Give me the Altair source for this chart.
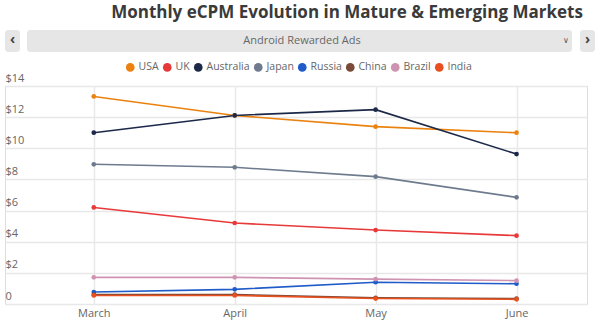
import altair as alt
import pandas as pd

months = ["March", "April", "May", "June"]
countries = ["USA", "UK", "Australia", "Japan", "Russia", "China", "Brazil", "India"]
colors = ["#EB820F", "#E8393A", "#1B2848", "#6E7B8E", "#1F5BC9", "#7A4A38", "#CF93B2", "#E8501F"]

usa = [13.33, 12.11, 11.39, 11.0]
uk = [6.2, 5.2, 4.75, 4.39]
australia = [11.0, 12.11, 12.48, 9.63]
japan = [8.97, 8.78, 8.18, 6.85]
russia = [0.77, 0.94, 1.4, 1.3]
china = [0.6, 0.6, 0.4, 0.35]
brazil = [1.71, 1.71, 1.6, 1.5]
india = [0.55, 0.55, 0.35, 0.3]
y_ticks = [0, 2, 4, 6, 8, 10, 12, 14]

series = [usa, uk, australia, japan, russia, china, brazil, india]
rows = []
for c, vals in zip(countries, series):
    for i, (m, v) in enumerate(zip(months, vals)):
        rows.append({"country": c, "month": m, "idx": i, "value": v})
df = pd.DataFrame(rows)

FONT = "Open Sans"
W, H = 582, 218

xenc = alt.X("idx:Q",
             scale=alt.Scale(domain=[-0.63, 3.5], nice=False, zero=False),
             axis=alt.Axis(values=[0, 1, 2, 3], title=None, domain=False, ticks=False,
                           labelExpr="['March','April','May','June'][datum.value]",
                           labelFont=FONT, labelFontSize=11, labelColor="#666",
                           labelPadding=3, gridColor="#e8e8e8", gridWidth=1.5))
yenc = alt.Y("value:Q",
             scale=alt.Scale(domain=[0, 14], nice=False),
             axis=alt.Axis(values=y_ticks, title=None, domain=False, ticks=False,
                           tickSize=0, labelAlign="left", labelPadding=0, labelBaseline="bottom",
                           labelOffset=-3, labelOverlap=False, labelBound=False, labelFlush=False,
                           labelExpr="datum.value == 0 ? '0' : '$' + datum.value",
                           labelFont=FONT, labelFontSize=11, labelColor="#666",
                           gridColor="#e8e8e8", gridWidth=1.5))
color = alt.Color("country:N", scale=alt.Scale(domain=countries, range=colors),
                  legend=alt.Legend(orient="none", direction="horizontal", legendX=120, legendY=-24,
                                    title=None, symbolType="circle", symbolSize=75,
                                    symbolStrokeWidth=0, symbolOpacity=1,
                                    labelFont=FONT, labelFontSize=10.5, labelColor="#666",
                                    columnPadding=3, labelOffset=3))

base = alt.Chart(df).encode(x=xenc, y=yenc, color=color)
lines = base.mark_line(strokeWidth=1.6)
points = base.mark_circle(size=22, opacity=1)

one = pd.DataFrame({"a": [0]})
title = alt.Chart(one).mark_text(text="Monthly eCPM Evolution in Mature & Emerging Markets",
                                 font=FONT, fontSize=17, fontWeight="bold", color="#3a3a3a",
                                 align="center", baseline="middle").encode(x=alt.value(342), y=alt.value(-73))
bar = alt.Chart(one).mark_rect(fill="#e6e6e6", cornerRadius=3).encode(
    x=alt.value(22), x2=alt.value(567), y=alt.value(-56), y2=alt.value(-34))
lbtn = alt.Chart(one).mark_rect(fill="#e6e6e6", cornerRadius=3).encode(
    x=alt.value(0), x2=alt.value(15), y=alt.value(-56), y2=alt.value(-34))
rbtn = alt.Chart(one).mark_rect(fill="#e6e6e6", cornerRadius=3).encode(
    x=alt.value(575), x2=alt.value(590), y=alt.value(-56), y2=alt.value(-34))
bartext = alt.Chart(one).mark_text(text="Android Rewarded Ads", font=FONT, fontSize=11, color="#666",
                                   align="center", baseline="middle").encode(x=alt.value(297), y=alt.value(-45))
chev = alt.Chart(one).mark_text(text="∨", font="DejaVu Sans", fontSize=8, color="#555",
                                align="center", baseline="middle").encode(x=alt.value(561), y=alt.value(-45))
larr = alt.Chart(one).mark_text(text="‹", font=FONT, fontSize=14, fontWeight="bold", color="#444",
                                align="center", baseline="middle").encode(x=alt.value(7.5), y=alt.value(-46))
rarr = alt.Chart(one).mark_text(text="›", font=FONT, fontSize=14, fontWeight="bold", color="#444",
                                align="center", baseline="middle").encode(x=alt.value(582.5), y=alt.value(-46))

chart = alt.layer(lines, points, title, bar, lbtn, rbtn, bartext, chev, larr, rarr).properties(
    width=W, height=H,
    autosize=alt.AutoSizeParams(type="none"),
    padding={"left": 5, "top": 86, "right": 13, "bottom": 18},
).configure_view(stroke=None).configure(background="white")

chart.save("out.html", embed_options={"renderer": "svg", "actions": False})
